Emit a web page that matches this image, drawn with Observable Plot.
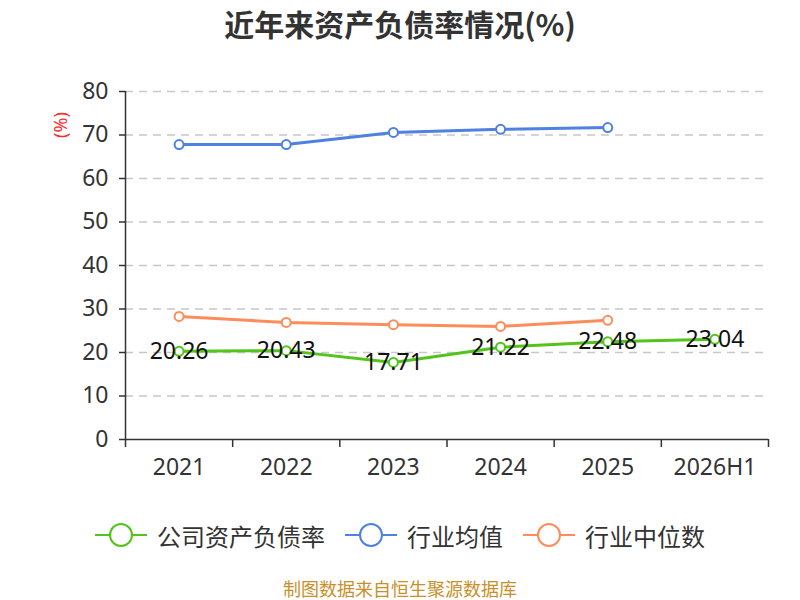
<!DOCTYPE html>
<html>
<head>
<meta charset="utf-8">
<script src="https://cdn.jsdelivr.net/npm/d3@7"></script>
<script src="https://cdn.jsdelivr.net/npm/@observablehq/plot@0.6"></script>
<style>
  body { margin: 0; background: #fff; font-family: "Noto Sans CJK SC", "Noto Sans", sans-serif; }
  #title { height: 45px; line-height: 46px; text-align: center; font-size: 30px; font-weight: bold; color: #333; }
  #legend { display: flex; justify-content: center; align-items: center; margin-top: 34px; height: 32px; font-size: 24px; color: #333; }
  .item { display: flex; align-items: center; margin: 0 10px; }
  .item svg { margin-right: 10px; }
  #caption { text-align: center; margin-top: 24px; font-size: 18px; color: #c8902a; }
</style>
</head>
<body>
<div id="title">近年来资产负债率情况(%)</div>
<div id="chart"></div>
<div id="legend"></div>
<div id="caption">制图数据来自恒生聚源数据库</div>
<script>
const categories = ["2021", "2022", "2023", "2024", "2025", "2026H1"];
const company = [20.26, 20.43, 17.71, 21.22, 22.48, 23.04];
const industryAvg = [67.8, 67.8, 70.6, 71.3, 71.7];
const industryMedian = [28.3, 26.9, 26.4, 26.0, 27.4];
const yTicks = [0, 10, 20, 30, 40, 50, 60, 70, 80];
const seriesNames = ["公司资产负债率", "行业均值", "行业中位数"];
const colors = ["#52c41a", "#4f81e3", "#ff8c5a"];

const rows = (vals, s) => vals.map((v, i) => ({i: i + 0.5, cat: categories[i], v, s}));
const compRows = rows(company, seriesNames[0]);
const avgRows = rows(industryAvg, seriesNames[1]);
const medRows = rows(industryMedian, seriesNames[2]);
const boundaries = d3.range(categories.length + 1);
const catRows = categories.map((c, i) => ({i: i + 0.5, c}));

const font = "'Noto Sans', 'Noto Sans CJK SC', sans-serif";
const lineMarks = (data, color) => [
  Plot.line(data, {x: "i", y: "v", stroke: color, strokeWidth: 3}),
  Plot.dot(data, {x: "i", y: "v", r: 4.5, fill: "#fff", stroke: color, strokeWidth: 2})
];

const chart = Plot.plot({
  width: 800,
  height: 440,
  marginLeft: 125,
  marginRight: 32,
  marginTop: 46,
  marginBottom: 46,
  style: {fontFamily: font, background: "#fff", color: "#333"},
  x: {type: "linear", domain: [0, categories.length]},
  y: {type: "linear", domain: [0, 80]},
  marks: [
    Plot.ruleY(yTicks.filter(d => d > 0), {stroke: "#c8c8c8", strokeWidth: 1.5, strokeDasharray: "8,6"}),
    // y axis
    Plot.axisY({ticks: yTicks, tickSize: 6, tickPadding: 11, fontSize: 23, label: null, stroke: "#333", strokeWidth: 1.5, fill: "#333"}),
    Plot.ruleX([0], {y1: 0, y2: 80, stroke: "#333", strokeWidth: 1.5}),
    // x axis
    Plot.axisX({ticks: boundaries, tickSize: 8, tickFormat: () => "", label: null, stroke: "#333", strokeWidth: 1.5}),
    Plot.ruleY([0], {x1: 0, x2: categories.length, stroke: "#333", strokeWidth: 1.5}),
    Plot.text(catRows, {x: "i", y: 0, text: "c", dy: 28, fontSize: 23, fill: "#333"}),
    ...lineMarks(avgRows, colors[1]),
    ...lineMarks(medRows, colors[2]),
    ...lineMarks(compRows, colors[0]),
    Plot.text(compRows, {x: "i", y: "v", text: d => d.v.toFixed(2), fontSize: 23, fill: "#111"})
  ]
});
document.getElementById("chart").appendChild(chart);

const svg = d3.select(chart);
// Y axis label
svg.append("text")
  .attr("transform", "translate(62,80) rotate(-90)")
  .attr("text-anchor", "middle")
  .attr("dominant-baseline", "middle")
  .attr("font-size", 18)
  .attr("fill", "#ff2a2a")
  .attr("font-family", font)
  .text("(%)");

// Legend
const legend = document.getElementById("legend");
seriesNames.forEach((n, k) => {
  const item = document.createElement("div");
  item.className = "item";
  item.innerHTML = `<svg width="52" height="26"><line x1="0" x2="52" y1="13" y2="13" stroke="${colors[k]}" stroke-width="2"/><circle cx="26" cy="13" r="11" fill="#fff" stroke="${colors[k]}" stroke-width="2"/></svg><span>${n}</span>`;
  legend.appendChild(item);
});
</script>
</body>
</html>
